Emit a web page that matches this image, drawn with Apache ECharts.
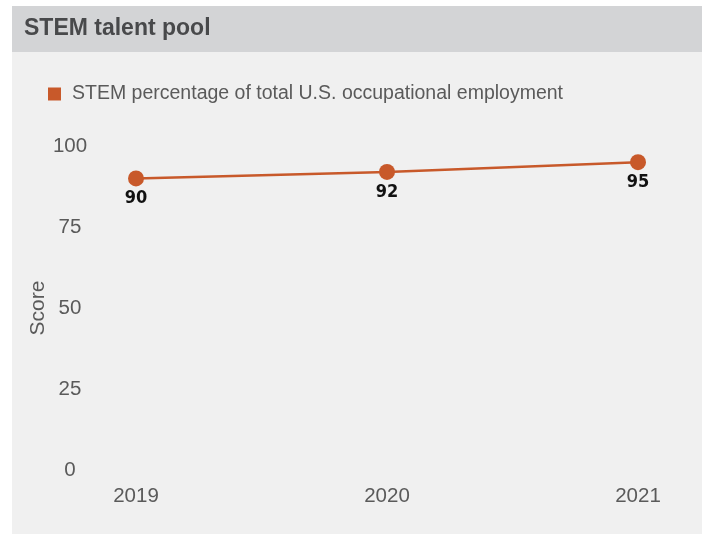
<!DOCTYPE html>
<html>
<head>
<meta charset="utf-8">
<script src="https://cdn.jsdelivr.net/npm/echarts@6/dist/echarts.min.js"></script>
<style>
  html, body { margin: 0; padding: 0; background: #ffffff; }
  #chart { width: 706px; height: 534px; }
</style>
</head>
<body>
<div id="chart"></div>
<script>
// Survey years and STEM score series
const years = ['2019', '2020', '2021'];
const stemShare = [90, 92, 95];
const yTicks = [0, 25, 50, 75, 100];

const seriesName = 'STEM percentage of total U.S. occupational employment';
const accent = '#c8592a';
const axisText = '#5a5a5a';
const bodyFont = '"Liberation Sans", Arial, sans-serif';

const chart = echarts.init(document.getElementById('chart'));
chart.setOption({
  backgroundColor: '#ffffff',
  animation: false,
  graphic: [
    { type: 'rect', z: -10, shape: { x: 12, y: 6, width: 690, height: 528 }, style: { fill: '#f0f0f0' } },
    { type: 'rect', z: -9, shape: { x: 12, y: 6, width: 690, height: 46 }, style: { fill: '#d3d4d6' } }
  ],
  title: {
    text: 'STEM talent pool',
    left: 19,
    top: 12,
    textStyle: {
      fontFamily: bodyFont,
      fontWeight: 'bold',
      fontSize: 23,
      color: '#48494b'
    }
  },
  legend: {
    left: 43,
    top: 79,
    itemWidth: 13,
    itemHeight: 13,
    itemGap: 10,
    icon: 'rect',
    data: [seriesName],
    textStyle: {
      fontFamily: bodyFont,
      fontSize: 19.5,
      color: axisText,
      padding: [0, 0, 0, 6]
    }
  },
  grid: { left: 136, right: 68, top: 146, bottom: 64, containLabel: false },
  xAxis: {
    type: 'category',
    data: years,
    boundaryGap: false,
    axisLine: { show: false },
    axisTick: { show: false },
    axisLabel: {
      margin: 16,
      fontFamily: bodyFont,
      fontSize: 20.5,
      color: axisText
    }
  },
  yAxis: {
    type: 'value',
    min: yTicks[0],
    max: yTicks[yTicks.length - 1],
    interval: 25,
    name: 'Score',
    nameLocation: 'middle',
    nameGap: 87,
    nameMoveOverlap: false,
    nameTextStyle: {
      fontFamily: bodyFont,
      fontSize: 21,
      color: axisText
    },
    axisLine: { show: false },
    axisTick: { show: false },
    splitLine: { show: false },
    axisLabel: {
      align: 'center',
      margin: 66,
      fontFamily: bodyFont,
      fontSize: 20.5,
      color: axisText
    }
  },
  series: [{
    name: seriesName,
    type: 'line',
    data: stemShare,
    color: accent,
    symbol: 'circle',
    symbolSize: 16,
    lineStyle: { width: 2.5, color: accent },
    itemStyle: { color: accent },
    label: {
      show: true,
      position: 'bottom',
      distance: 3,
      fontFamily: '"Liberation Sans Narrow", "DejaVu Sans Condensed", sans-serif',
      fontWeight: 'bold',
      fontSize: 18,
      color: '#111111'
    }
  }]
});
</script>
</body>
</html>
